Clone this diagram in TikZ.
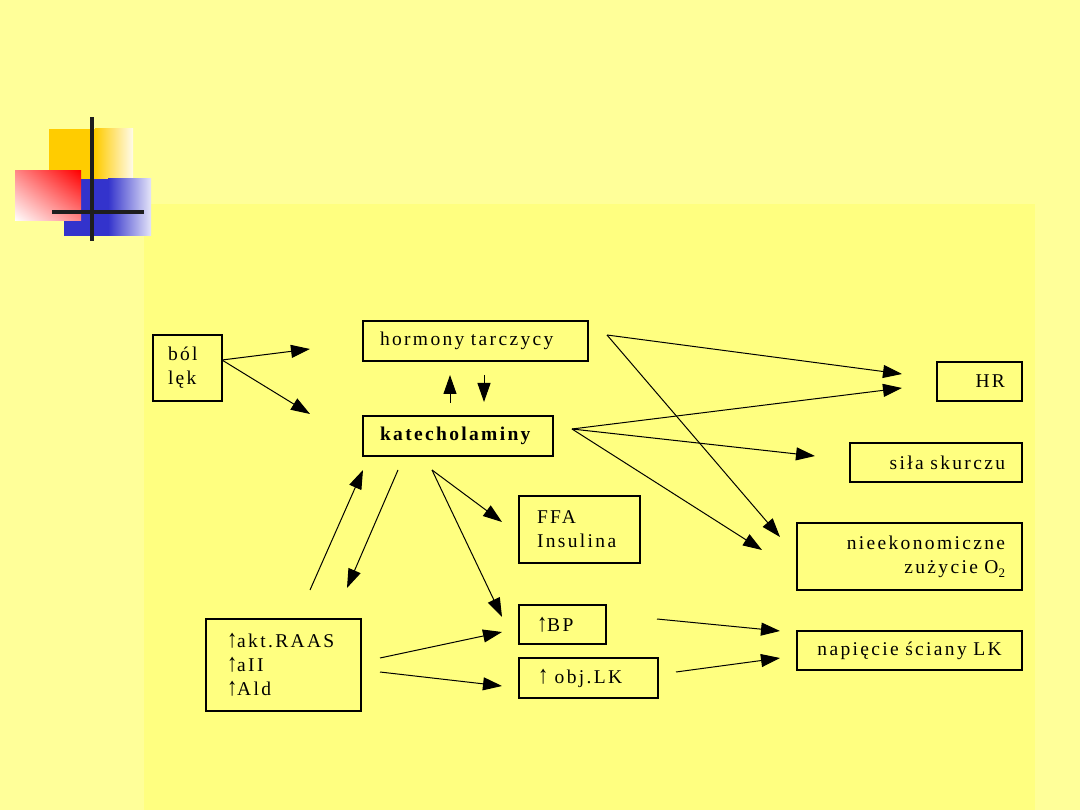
\documentclass[tikz,border=0pt]{standalone}
\usepackage{fontspec}
\usepackage{graphicx}
\setmainfont{Liberation Serif}[LetterSpace=12]
\usetikzlibrary{arrows.meta,shadings}
\newcommand{\uparr}{\scalebox{1.05}[1.3]{↑}}
\definecolor{outerbg}{HTML}{FFFF99}
\definecolor{innerbg}{HTML}{FFFF80}
\definecolor{logogold}{HTML}{FFCC00}
\definecolor{logoblue}{HTML}{3333CC}
\definecolor{logobluelight}{HTML}{E4E4F8}
\definecolor{logored}{HTML}{FF0000}
\definecolor{logopink}{HTML}{FF8888}
\definecolor{logobar}{HTML}{1E1E1E}
\begin{document}
\begin{tikzpicture}[x=1pt,y=-1pt,
  box/.style={draw=black, line width=1.4pt, inner ysep=0pt,
    font=\fontsize{19.5}{24}\selectfont},
  conn/.style={draw=black, line width=1pt,
    -{Triangle[length=19pt,width=13pt]}}]
% backgrounds
\fill[outerbg] (0,0) rectangle (1080,810);
\fill[innerbg] (144,204) rectangle (1035,810);
\useasboundingbox (0,0) rectangle (1080,810);
% logo
\fill[logogold] (49,129) rectangle (95,180);
\shade[left color=logogold, right color=white!92!logogold] (95,129) rectangle (133,180);
\fill[logoblue] (64,179) rectangle (108,236);
\shade[left color=logoblue, right color=logobluelight] (108,179) rectangle (151,236);
\shade[upper right=logored, lower left=white, upper left=logopink, lower right=logopink] (15,171) rectangle (81,221);
\fill[logobar] (90,117) rectangle (94,241);
\fill[logobar] (52,210) rectangle (144,214);
% nodes
\node[box, minimum width=69pt, minimum height=66pt, inner xsep=15pt, text width=39pt, align=left] (bol) at (187.5,368) {ból\\lęk};
\node[box, minimum width=225pt, minimum height=40pt, inner xsep=17pt, text width=191pt, align=left] (horm) at (475.5,341) {hormony tarczycy};
\node[box, minimum width=190pt, minimum height=40pt, inner xsep=17pt, text width=156pt, align=left] (kat) at (458,436) {\bfseries katecholaminy};
\node[box, minimum width=85pt, minimum height=39pt, inner xsep=17pt, text width=51pt, align=right] (hr) at (979.5,381.5) {HR};
\node[box, minimum width=172pt, minimum height=39pt, inner xsep=17pt, text width=138pt, align=right] (sila) at (936,462.5) {siła skurczu};
\node[box, minimum width=225pt, minimum height=67pt, inner xsep=17pt, text width=191pt, align=right] (nieek) at (909.5,556.5) {nieekonomiczne\\zużycie O\raisebox{-4pt}{\fontsize{13}{13}\selectfont 2}};
\node[box, minimum width=225pt, minimum height=39pt, inner xsep=10pt, text width=205pt, align=center] (nap) at (909.5,650.5) {napięcie ściany LK};
\node[box, minimum width=121pt, minimum height=67pt, inner xsep=18pt, text width=85pt, align=left] (ffa) at (579.5,529.5) {FFA\\Insulina};
\node[box, minimum width=87pt, minimum height=39pt, inner xsep=18pt, text width=51pt, align=left] (bp) at (562.5,624.5) {\uparr BP};
\node[box, minimum width=139pt, minimum height=40pt, inner xsep=19pt, text width=101pt, align=left] (obj) at (588.5,678) {\uparr\ obj.LK};
\node[box, minimum width=155pt, minimum height=92pt, inner xsep=21pt, text width=113pt, align=left] (raas) at (283.5,665) {\uparr akt.RAAS\\\uparr aII\\\uparr Ald};
% connector end points
\coordinate (bolout) at (222,360);
\coordinate (bolA) at (310,349);
\coordinate (bolB) at (310,414);
\coordinate (upS) at (450,403);
\coordinate (upE) at (450,375);
\coordinate (dnS) at (484,375);
\coordinate (dnE) at (484,402);
\coordinate (hormout) at (607,335);
\coordinate (hrA) at (902,374);
\coordinate (hrB) at (902,388);
\coordinate (nieA) at (780,537);
\coordinate (katout) at (572,429);
\coordinate (silaE) at (815,456);
\coordinate (nieB) at (762,550);
\coordinate (katbot) at (432,470);
\coordinate (ffaE) at (502,522);
\coordinate (bpA) at (502,617);
\coordinate (raasUpS) at (310,590);
\coordinate (raasUpE) at (363,470);
\coordinate (raasDnS) at (398,470);
\coordinate (raasDnE) at (347,588);
\coordinate (raasA) at (380,658);
\coordinate (raasB) at (380,672);
\coordinate (bpB) at (502,632);
\coordinate (objE) at (502,686);
\coordinate (bpout) at (657,619);
\coordinate (objout) at (676,672);
\coordinate (napA) at (780,631);
\coordinate (napB) at (780,658);
% connectors
\draw[conn] (bolout) -- (bolA);
\draw[conn] (bolout) -- (bolB);
\draw[conn] (upS) -- (upE);
\draw[conn] (dnS) -- (dnE);
\draw[conn] (hormout) -- (hrA);
\draw[conn] (hormout) -- (nieA);
\draw[conn] (katout) -- (hrB);
\draw[conn] (katout) -- (silaE);
\draw[conn] (katout) -- (nieB);
\draw[conn] (katbot) -- (ffaE);
\draw[conn] (katbot) -- (bpA);
\draw[conn] (raasUpS) -- (raasUpE);
\draw[conn] (raasDnS) -- (raasDnE);
\draw[conn] (raasA) -- (bpB);
\draw[conn] (raasB) -- (objE);
\draw[conn] (bpout) -- (napA);
\draw[conn] (objout) -- (napB);
\end{tikzpicture}
\end{document}
